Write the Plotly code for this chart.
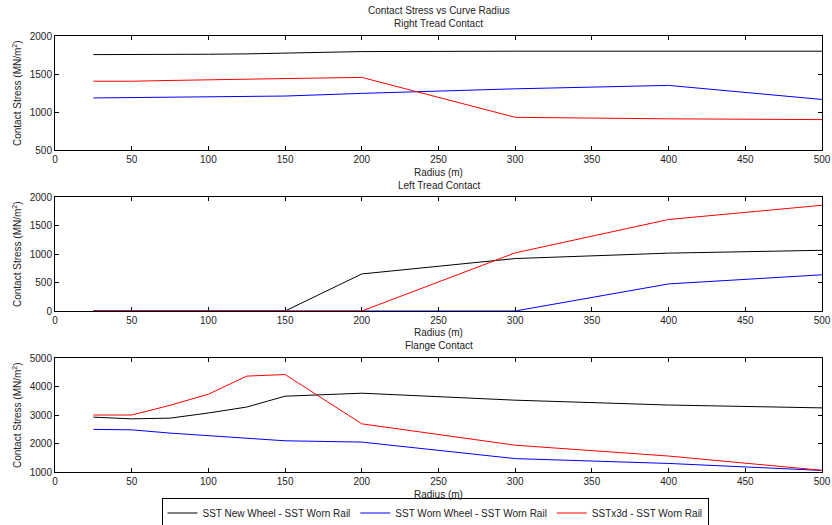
import plotly.graph_objects as go

radius = [25, 50, 75, 100, 125, 150, 200, 300, 400, 500]

series_names = ["SST New Wheel - SST Worn Rail", "SST Worn Wheel - SST Worn Rail", "SSTx3d - SST Worn Rail"]
series_colors = ["black", "blue", "red"]

# Right tread contact
right_new = [1755, 1755, 1755, 1760, 1765, 1775, 1795, 1800, 1800, 1800]
right_worn = [1185, 1190, 1195, 1200, 1205, 1210, 1245, 1305, 1350, 1165]
right_x3d = [1405, 1405, 1415, 1425, 1430, 1440, 1455, 930, 910, 900]

# Left tread contact
left_new = [0, 0, 0, 0, 0, 0, 650, 920, 1015, 1065]
left_worn = [0, 0, 0, 0, 0, 0, 0, 0, 475, 635]
left_x3d = [0, 0, 0, 0, 0, 0, 0, 1020, 1605, 1855]

# Flange contact
flange_new = [2925, 2865, 2890, 3070, 3280, 3660, 3765, 3520, 3350, 3250]
flange_worn = [2495, 2480, 2365, 2270, 2180, 2095, 2050, 1470, 1300, 1055]
flange_x3d = [3000, 3000, 3340, 3730, 4365, 4420, 2690, 1940, 1560, 1060]

panels = [
    ([right_new, right_worn, right_x3d], [500, 2000], [500, 1000, 1500, 2000]),
    ([left_new, left_worn, left_x3d], [0, 2000], [0, 500, 1000, 1500, 2000]),
    ([flange_new, flange_worn, flange_x3d], [1000, 5000], [1000, 2000, 3000, 4000, 5000]),
]
x_ticks = [0, 50, 100, 150, 200, 250, 300, 350, 400, 450, 500]

W, H = 832, 525
x0, x1 = 55, 822
rows_px = [(36, 150), (197, 311), (358, 472)]

font_family = "Liberation Sans, Arial, sans-serif"
fig = go.Figure()

layout = dict(
    width=W, height=H,
    margin=dict(l=0, r=0, t=0, b=0, autoexpand=False),
    paper_bgcolor="white", plot_bgcolor="white",
    font=dict(family=font_family, size=10, color="#222"),
    showlegend=True,
)

annotations = []
for i, (data, yr, yt) in enumerate(panels):
    n = i + 1
    xa = "x" if n == 1 else f"x{n}"
    ya = "y" if n == 1 else f"y{n}"
    for j, vals in enumerate(data):
        fig.add_trace(go.Scatter(
            x=radius, y=vals, mode="lines",
            line=dict(color=series_colors[j], width=1),
            name=series_names[j], showlegend=(i == 0),
            xaxis=xa, yaxis=ya,
        ))
    top, bot = rows_px[i]
    axis_common = dict(showgrid=False, zeroline=False, showline=True, linecolor="black",
                       linewidth=1, mirror="ticks", ticks="inside", ticklen=4,
                       tickcolor="black", automargin=False,
                       tickfont=dict(size=10, family=font_family, color="#222"))
    layout[f"xaxis{'' if n == 1 else n}"] = dict(
        domain=[x0 / W, x1 / W], range=[0, 500], tickvals=x_ticks,
        anchor=ya, **axis_common)
    layout[f"yaxis{'' if n == 1 else n}"] = dict(
        domain=[1 - bot / H, 1 - top / H], range=yr, tickvals=yt,
        anchor=xa, **axis_common)
    annotations.append(dict(
        text="Radius (m)", x=(x0 + x1) / 2 / W, y=1 - (bot + 22) / H,
        xref="paper", yref="paper", showarrow=False, xanchor="center", yanchor="middle",
        font=dict(size=10, family=font_family, color="#222")))
    annotations.append(dict(
        text="Contact Stress (MN/m<sup>2</sup>)", x=17 / W, y=1 - (top + bot) / 2 / H,
        xref="paper", yref="paper", showarrow=False, textangle=-90,
        xanchor="center", yanchor="middle",
        font=dict(size=10, family=font_family, color="#222")))

subtitles = [("Right Tread Contact", 24), ("Left Tread Contact", 185), ("Flange Contact", 346)]
annotations.append(dict(text="Contact Stress vs Curve Radius", x=(x0 + x1) / 2 / W, y=1 - 11 / H,
                        xref="paper", yref="paper", showarrow=False, xanchor="center", yanchor="middle",
                        font=dict(size=10, family=font_family, color="#222")))
for t, yp in subtitles:
    annotations.append(dict(text=t, x=(x0 + x1) / 2 / W, y=1 - yp / H,
                            xref="paper", yref="paper", showarrow=False, xanchor="center", yanchor="middle",
                            font=dict(size=10, family=font_family, color="#222")))

layout["annotations"] = annotations
layout["legend"] = dict(orientation="h", x=435 / W, y=1 - 513 / H, xanchor="center", yanchor="middle",
                        bordercolor="black", borderwidth=1, bgcolor="white",
                        font=dict(size=10, family=font_family, color="#222"),
                        tracegroupgap=0, itemwidth=30)
fig.update_layout(**layout)
fig.write_html("out.html", config={"displayModeBar": False},
               post_script="document.body.style.margin='0';document.body.style.overflow='hidden';")
